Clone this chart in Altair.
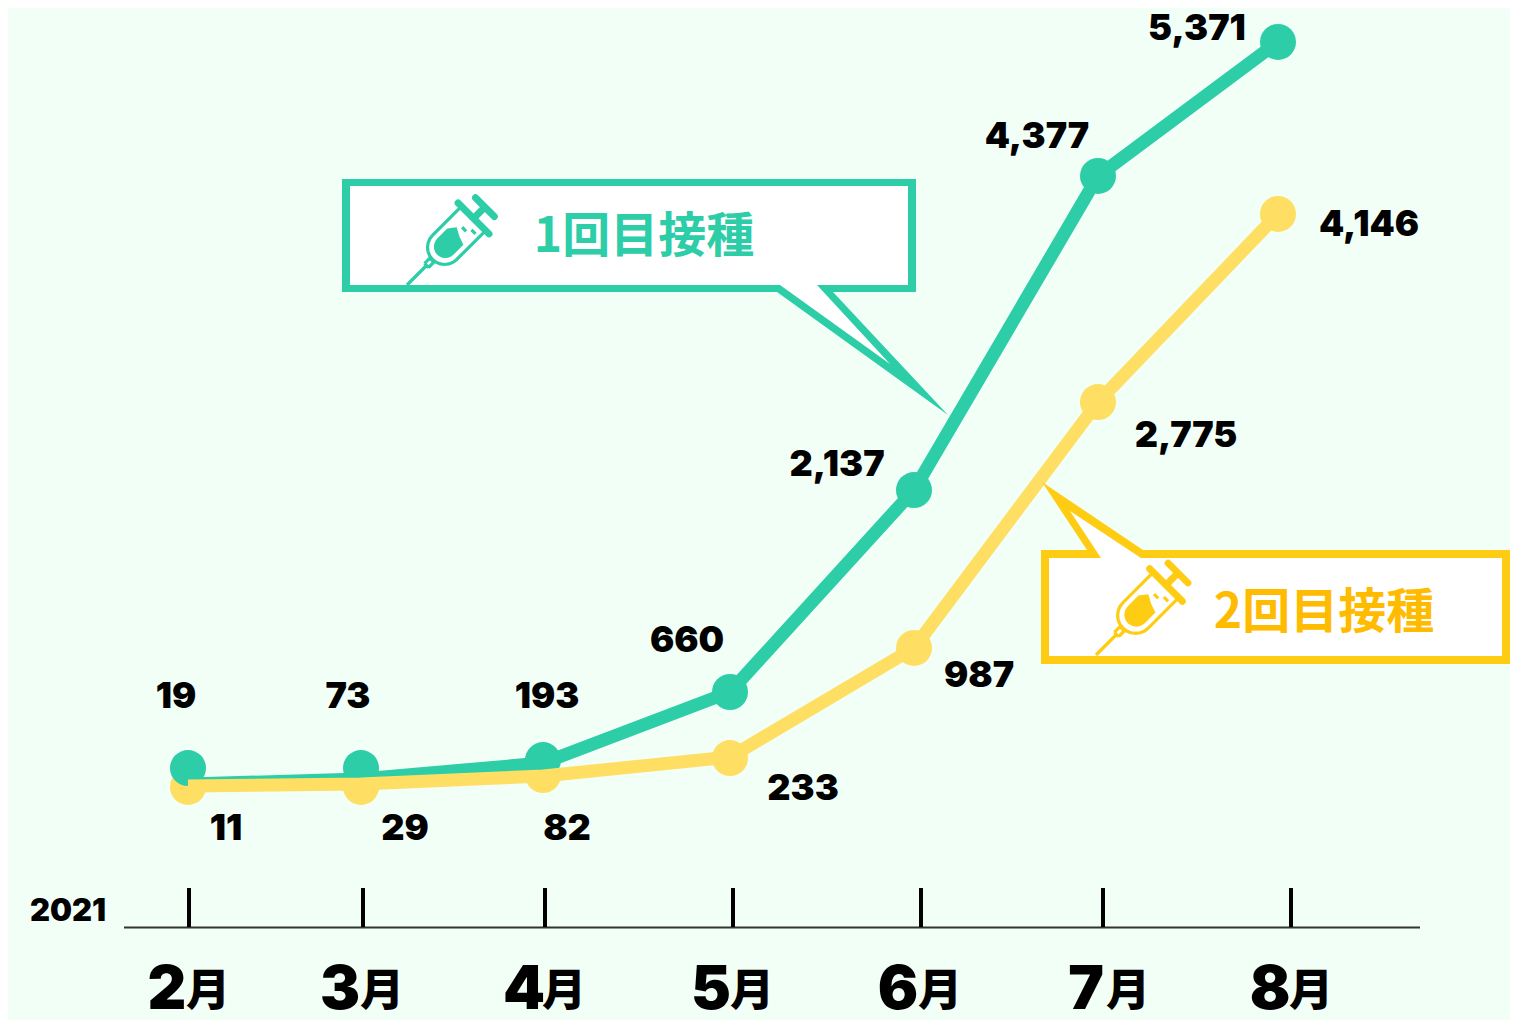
import math
import altair as alt
import pandas as pd

BG = "#F1FFF6"
GREEN = "#2DCDA7"
YELLOW = "#FFDF63"
GOLD = "#FFCC14"
GOLD_TEXT = "#FFBB00"
FONT = "Inter, Noto Sans CJK JP"
CJK = "Noto Sans CJK JP"
W, H = 1502, 1012

# horizontal position of each month's dots and of its axis tick (positions as drawn)
point_x = [188, 361, 543, 730, 914, 1098, 1278]
tick_x = [189, 363, 545, 733, 921, 1103, 1291]
months = ["2", "3", "4", "5", "6", "7", "8"]
digit_x = [167, 340, 524, 711, 898, 1086, 1270]
kanji_x = [208, 382, 564, 752, 940, 1128, 1311]

# series as drawn
first_line = [43, 79, 194, 704, 2154, 4409, 5371]
second_line = [29, 43, 101, 237, 1020, 2786, 4136]
first_dots = [158, 158, 215, 704, 2154, 4409, 5371]
second_dots = [22, 22, 108, 230, 1020, 2786, 4136]

# printed labels
first_labels = ["19", "73", "193", "660", "2,137", "4,377", "5,371"]
first_label_x = [176, 348, 547, 687, 837, 1037, 1197]
first_label_y = [697, 697, 697, 641, 465, 137, 29]
second_labels = ["11", "29", "82", "233", "987", "2,775", "4,146"]
second_label_x = [226, 405, 567, 803, 979, 1186, 1369]
second_label_y = [829, 829, 829, 789, 676, 436, 225]

X = alt.X("x:Q", scale=alt.Scale(domain=[8, 8 + W], range=[0, W], nice=False, zero=False), axis=None)
VY = alt.Y("v:Q", scale=alt.Scale(domain=[-1651, 5615], range=[H, 0], nice=False, zero=False), axis=None)
PY = alt.Y("y:Q", scale=alt.Scale(domain=[8, 8 + H], range=[0, H], nice=False, zero=False), axis=None)


def series_line(values, color):
    df = pd.DataFrame({"x": point_x, "v": values})
    return alt.Chart(df).mark_line(color=color, strokeWidth=13, strokeJoin="round", strokeCap="butt").encode(x=X, y=VY)


def series_dots(values, color):
    df = pd.DataFrame({"x": point_x, "v": values})
    return alt.Chart(df).mark_point(shape="circle", size=1296, filled=True, fill=color, opacity=1, strokeWidth=0).encode(x=X, y=VY)


def labels(texts, xs, ys, size=36, color="#000000", font=FONT, weight=900, baseline="middle"):
    df = pd.DataFrame({"x": xs, "y": ys, "t": texts})
    return alt.Chart(df).mark_text(fontSize=size, font=font, fontWeight=weight, color=color, baseline=baseline, align="center").encode(x=X, y=PY, text="t:N")


def poly(pts):
    return "M " + " L ".join(f"{a - 8:.1f} {b - 8:.1f}" for a, b in pts) + " Z"


def shape(path, fill=None, stroke=None, width=0, cap="round"):
    kw = dict(shape=path, size=4, opacity=1)
    if fill:
        kw.update(filled=True, fill=fill, strokeWidth=0)
    else:
        kw.update(filled=False, stroke=stroke, strokeWidth=width, strokeCap=cap, fill="transparent")
    return alt.Chart(pd.DataFrame({"k": [0]})).mark_point(**kw).encode(x=alt.value(0), y=alt.value(0))


def syringe(tipx, tipy, k, color):
    # local frame: u runs from the needle tip to the plunger at 45 degrees, v across it
    def P(u, v):
        c = math.sqrt(0.5)
        return (tipx + k * (u * c + v * c), tipy + k * (-u * c + v * c))

    def seg(u0, v0, u1, v1):
        a, b = P(u0, v0), P(u1, v1)
        return f"M {a[0] - 8:.1f} {a[1] - 8:.1f} L {b[0] - 8:.1f} {b[1] - 8:.1f}"

    def capsule(u0, r, u1, rr):
        pts = [(u1, rr)]
        for i in range(0, 13):
            t = math.pi / 2 + i * math.pi / 12
            pts.append((u0 + r + r * math.cos(t), rr * math.sin(t)))
        pts.append((u1, -rr))
        return pts

    barrel = capsule(38, 18, 98, 18)
    outline = "M " + " L ".join(f"{P(*q)[0] - 8:.1f} {P(*q)[1] - 8:.1f}" for q in barrel)
    liquid = capsule(45, 12, 72, 12) + [(80, -6), (75, 3)]
    thin = " ".join([
        outline,
        seg(0, 0, 29, 0),
        seg(29, -3, 29, 3), seg(29, 3, 37, 3), seg(37, 3, 37, -3), seg(37, -3, 29, -3),
        seg(84, -2, 84, 4),
        seg(89, 7, 89, 13),
    ])
    thick = " ".join([seg(99, -23, 99, 23), seg(99, 0, 112, 0), seg(116, -14, 116, 14)])
    return (
        shape(poly([P(*q) for q in liquid]), fill=color)
        + shape(thin, stroke=color, width=3.2, cap="butt")
        + shape(thick, stroke=color, width=7)
    )


# callout outlines
c1_outer = [(342, 179), (916, 179), (916, 292), (833, 292), (948, 415), (777, 292), (342, 292)]
c1_inner = [(350, 186), (908, 186), (908, 285), (817, 285), (890, 364), (780, 285), (350, 285)]
c2_outer = [(1041, 550), (1087, 550), (1042, 482), (1143, 550), (1510, 550), (1510, 664), (1041, 664)]
c2_inner = [(1049, 558), (1101, 558), (1070, 511), (1141, 558), (1502, 558), (1502, 656), (1049, 656)]

ticks = pd.DataFrame({"x": tick_x, "y": [888] * 7, "y2": [927] * 7})
tick_layer = alt.Chart(ticks).mark_rule(color="#000000", strokeWidth=4).encode(x=X, y=PY, y2="y2:Q")
base = pd.DataFrame({"x": [124], "x2": [1420], "y": [927.5]})
base_layer = alt.Chart(base).mark_rule(color="#333333", strokeWidth=2).encode(x=X, x2="x2:Q", y=PY)

chart = alt.layer(
    series_dots(second_dots, YELLOW),
    series_line(first_line, GREEN),
    series_dots(first_dots, GREEN),
    series_line(second_line, YELLOW),
    shape(poly(c1_outer), fill=GREEN),
    shape(poly(c1_inner), fill="#FFFFFF"),
    syringe(407, 285, 0.95, GREEN),
    shape(poly(c2_outer), fill=GOLD),
    shape(poly(c2_inner), fill="#FFFFFF"),
    syringe(1096, 655, 1.0, GOLD),
    labels(["1回目接種"], [644], [238], size=48, color=GREEN, font=CJK, weight=700),
    labels(["2回目接種"], [1324], [614], size=48, color=GOLD_TEXT, font=CJK, weight=700),
    labels(first_labels, first_label_x, first_label_y),
    labels(second_labels, second_label_x, second_label_y),
    base_layer,
    tick_layer,
    labels(["2021"], [68], [912], size=31),
    labels(months, digit_x, [1009] * 7, size=60, baseline="alphabetic"),
    labels(["月"] * 7, kanji_x, [1006] * 7, size=44, font=CJK, baseline="alphabetic"),
).resolve_scale(y="independent").properties(
    width=W, height=H, background=BG, padding=0, autosize=alt.AutoSizeParams(type="none")
).configure_view(stroke=None)

chart.save("out.html", embed_options={"renderer": "svg", "actions": False})
